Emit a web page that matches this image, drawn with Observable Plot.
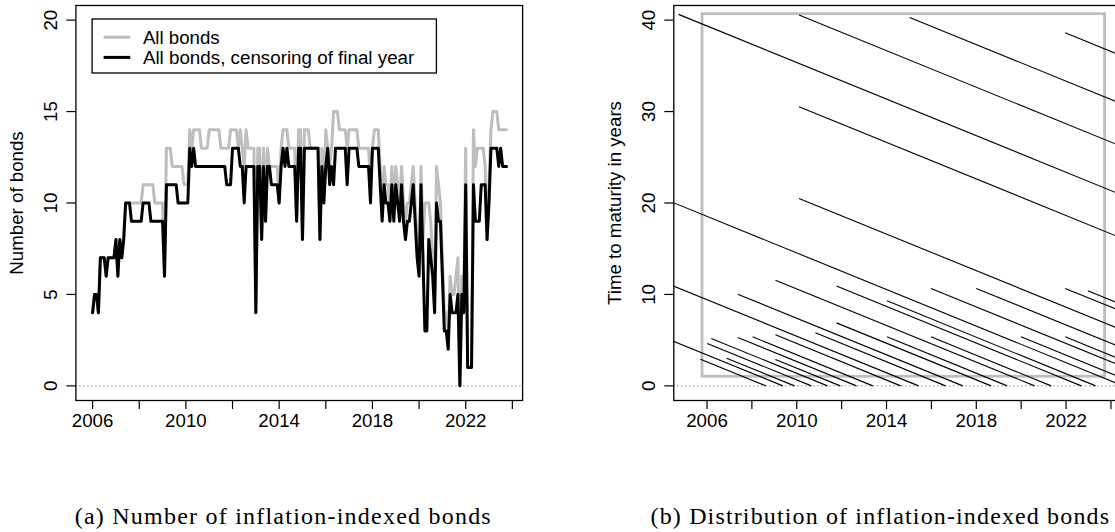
<!DOCTYPE html>
<html>
<head>
<meta charset="utf-8">
<script src="https://cdn.jsdelivr.net/npm/d3@7"></script>
<script src="https://cdn.jsdelivr.net/npm/@observablehq/plot@0.6"></script>
<style>
  html, body { margin: 0; padding: 0; background: #fff; width: 1115px; height: 532px; overflow: hidden; }
  #wrap { position: relative; width: 1115px; height: 532px; overflow: hidden; background: #fff; }
  .panel { position: absolute; top: 0; height: 440px; }
  .panel svg { max-width: none !important; }
</style>
</head>
<body>
<div id="wrap"></div>
<script>
// ---------- data: panel (a), monthly from Jan 2006 ----------
const firstYear = 2006;
const allBonds = [
  4,5,5,4,7,7,7,6,7,7,7,7,8,6,8,7,8,
  10,10,10,
  10,10,10,10,10,10,
  11,11,11,11,11,11,
  10,10,10,10,10,
  6,
  13,13,13,
  12,12,12,12,12,12,
  11,11,11,
  14,13,
  14,14,14,14,
  13,13,13,13,
  14,14,14,14,14,14,
  13,13,13,13,13,
  14,14,14,14,
  13,14,13,12,14,
  13,13,13,13,
  4,13,13,8,13,9,
  13,12,12,12,12,12,10,
  13,14,14,14,13,13,13,13,
  9,14,14,8,
  14,14,14,13,13,13,13,13,
  8,13,10,14,13,12,13,
  15,15,15,
  14,14,14,14,
  13,
  14,14,14,14,14,
  13,13,13,13,13,13,
  11,13,
  14,14,14,
  12,10,12,11,11,10,12,10,12,11,10,12,10,9,10,10,11,12,
  10,8,7,12,8,10,10,10,9,7,5,12,11,10,7,4,4,3,6,5,5,6,7,0,6,5,13,1,1,1,
  14,12,13,13,13,13,12,8,11,14,15,15,15,14,14,14,14,14
];
const censoredBonds = [
  4,5,5,4,7,7,7,6,7,7,7,7,8,6,8,7,8,
  10,10,10,9,9,9,9,9,9,10,10,10,10,
  9,9,9,9,9,9,9,6,
  11,11,11,11,11,11,
  10,10,10,10,10,10,
  13,12,13,12,
  12,12,12,12,12,12,12,12,12,12,12,12,12,12,12,
  11,11,11,
  13,13,13,13,
  12,12,
  10,
  12,12,12,12,12,
  4,12,12,8,12,9,
  12,12,11,11,11,11,10,
  12,13,12,13,12,12,12,12,
  9,13,13,8,
  13,13,13,13,13,13,13,13,
  8,12,10,12,13,11,12,11,
  13,13,13,13,13,13,
  11,
  13,13,13,13,13,
  12,12,12,12,12,12,
  10,
  13,13,13,13,
  11,9,11,10,10,9,11,9,11,10,9,11,9,8,9,9,10,11,
  9,7,6,11,7,3,3,8,7,6,4,10,9,9,6,3,3,2,5,4,4,4,5,0,5,4,11,1,1,1,
  11,9,9,9,11,11,11,8,10,13,13,13,13,12,13,12,12,12
];

// ---------- data: panel (b), bonds (issue date, maturity date) ----------
const bondIssue = [
  2004.73, 2010.10, 2015.03, 2021.96, 2010.10, 2004.00, 2010.10, 2004.00, 2004.00,
  2009.05, 2007.37, 2011.77, 2014.02, 2015.98, 2018.00, 2021.96, 2022.97,
  2011.77, 2010.83, 2009.05, 2008.03, 2007.37, 2006.19, 2006.01, 2005.71,
  2006.87, 2009.05, 2014.02, 2015.98, 2019.99, 2021.96
];
const bondMaturity = [
  2045.36, 2050.66, 2055.33, 2060.58, 2040.63, 2024.54, 2030.60, 2015.43, 2009.38,
  2020.60, 2017.40, 2022.68, 2023.32, 2026.64, 2028.66, 2032.62, 2033.37,
  2018.66, 2016.63, 2014.63, 2013.39, 2012.66, 2011.37, 2010.65, 2008.63,
  2009.90, 2011.94, 2019.38, 2021.34, 2025.35, 2027.32
];
const sampleStart = 2005.80, sampleEnd = 2023.74, sampleMinTTM = 1.0, sampleMaxTTM = 40.65;

// ---------- ticks & texts ----------
const xTicks = [2006, 2008, 2010, 2012, 2014, 2016, 2018, 2020, 2022, 2024];
const xLabels = [2006, 2010, 2014, 2018, 2022];
const yTicksA = [0, 5, 10, 15, 20];
const yTicksB = [0, 10, 20, 30, 40];
const yTitleA = "Number of bonds";
const yTitleB = "Time to maturity in years";
const legendLabels = ["All bonds", "All bonds, censoring of final year"];
const legendColors = ["#bebebe", "#000000"];
const captionA = "(a) Number of inflation-indexed bonds";
const captionB = "(b) Distribution of inflation-indexed bonds";

// ---------- drawing ----------
const FONT = "'Liberation Sans', Arial, Helvetica, sans-serif";
const FS = 18.7;
const months = allBonds.map((_, i) => firstYear + i / 12);

function axisMarks(yTicks, yTitle) {
  return [
    Plot.axisX(xTicks, {tickSize: 9, tickFormat: () => "", label: null, strokeWidth: 1.2}),
    Plot.axisY(yTicks, {tickSize: 9, tickFormat: () => "", label: null, strokeWidth: 1.2}),
    Plot.text(xLabels, {x: d => d, text: d => String(d), frameAnchor: "bottom", dy: 26.7,
      lineAnchor: "bottom", fontSize: FS, fill: "black"}),
    Plot.text(yTicks, {y: d => d, text: d => String(d), frameAnchor: "left", dx: -18.7,
      rotate: -90, lineAnchor: "bottom", textAnchor: "middle", fontSize: FS, fill: "black"}),
    Plot.text([yTitle], {text: d => d, frameAnchor: "left", dx: -52.5, rotate: -90,
      lineAnchor: "bottom", textAnchor: "middle", fontSize: FS, fill: "black"}),
    Plot.frame({stroke: "black", strokeWidth: 1.3})
  ];
}

const style = {fontFamily: FONT, fontSize: FS + "px", background: "transparent", color: "black", overflow: "visible", maxWidth: "none"};

const A = Plot.plot({
  width: 560, height: 440,
  marginLeft: 75.4, marginRight: 37.9, marginTop: 5, marginBottom: 40,
  x: {domain: [2005.284, 2024.44]},
  y: {domain: [-0.8, 20.8]},
  style,
  marks: [
    Plot.ruleY([0], {stroke: "#555", strokeWidth: 1, strokeDasharray: "1,3"}),
    Plot.line(allBonds, {x: months, y: allBonds, stroke: legendColors[0], strokeWidth: 3}),
    Plot.line(censoredBonds, {x: months, y: censoredBonds, stroke: legendColors[1], strokeWidth: 3}),
    ...axisMarks(yTicksA, yTitleA)
  ]
});

const ttmStart = bondIssue.map((t, i) => bondMaturity[i] - t);
const B = Plot.plot({
  width: 600, height: 440,
  marginLeft: 113.3, marginRight: 39.7, marginTop: 5, marginBottom: 40,
  x: {domain: [2004.52, 2024.44]},
  y: {domain: [-1.6, 41.6]},
  style,
  marks: [
    Plot.ruleY([0], {stroke: "#555", strokeWidth: 1, strokeDasharray: "1,3"}),
    Plot.rect([0], {x1: sampleStart, x2: sampleEnd, y1: sampleMinTTM, y2: sampleMaxTTM,
      fill: "none", stroke: "#bebebe", strokeWidth: 2.8}),
    Plot.link(bondIssue, {x1: bondIssue, y1: ttmStart, x2: bondMaturity, y2: bondMaturity.map(() => 0),
      stroke: "black", strokeWidth: 1.1, clip: true}),
    ...axisMarks(yTicksB, yTitleB)
  ]
});

const wrap = document.getElementById("wrap");
const pa = document.createElement("div"); pa.className = "panel";
pa.style.left = "0px"; pa.style.width = "560px"; pa.appendChild(A); wrap.appendChild(pa);
const pb = document.createElement("div"); pb.className = "panel";
pb.style.left = "560px"; pb.style.width = "600px"; pb.appendChild(B); wrap.appendChild(pb);

// legend of panel (a)
const LFS = 18;
const lg = d3.select(A).append("g").attr("font-family", FONT).attr("font-size", LFS)
  .attr("text-anchor", "start");
lg.append("rect").attr("x", 92.1).attr("y", 19).attr("width", 344.3).attr("height", 54)
  .attr("fill", "white").attr("stroke", "black").attr("stroke-width", 1.3);
const rowY = [37.2, 57.4];
legendLabels.forEach((lab, i) => {
  lg.append("line").attr("x1", 103.6).attr("x2", 130.3).attr("y1", rowY[i]).attr("y2", rowY[i])
    .attr("stroke", legendColors[i]).attr("stroke-width", 3);
  lg.append("text").attr("x", 142.9).attr("y", rowY[i] + 6.8).attr("fill", "black")
    .attr("text-anchor", "start").attr("textLength", i === 0 ? 76.8 : 271.4)
    .attr("lengthAdjust", "spacingAndGlyphs").text(lab);
});

// captions
const cap = d3.select(wrap).append("svg").attr("width", 1115).attr("height", 532)
  .style("position", "absolute").style("left", "0px").style("top", "0px")
  .attr("font-family", "'Liberation Serif', 'Times New Roman', serif").attr("font-size", 24);
cap.append("text").attr("x", 74.7).attr("y", 524).attr("textLength", 416)
  .attr("lengthAdjust", "spacing").attr("fill", "black").text(captionA);
cap.append("text").attr("x", 650.6).attr("y", 524).attr("textLength", 458.4)
  .attr("lengthAdjust", "spacing").attr("fill", "black").text(captionB);
</script>
</body>
</html>
